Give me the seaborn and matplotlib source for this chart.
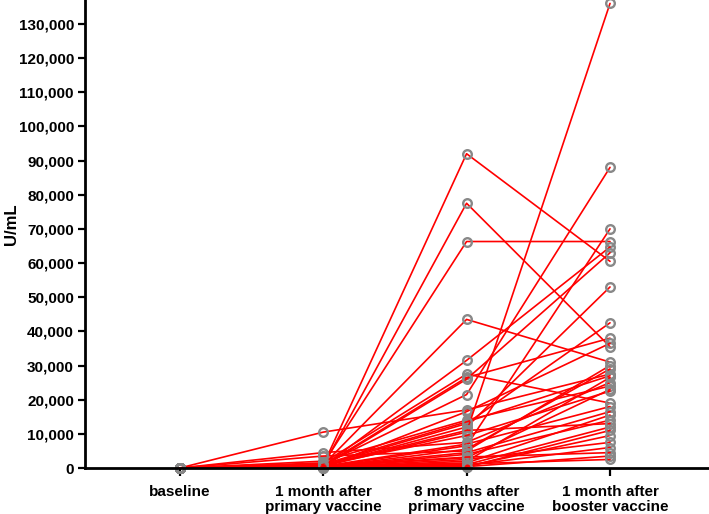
import numpy as np
import pandas as pd
import matplotlib
matplotlib.use("Agg")
import matplotlib.pyplot as plt
import seaborn as sns
from matplotlib.ticker import FuncFormatter, MultipleLocator

# Time point labels
timepoints = ["baseline", "1 month after\nprimary vaccine",
              "8 months after\nprimary vaccine", "1 month after\nbooster vaccine"]

# Antibody levels (U/mL) per subject at each time point
baseline = [0, 0, 0, 0, 0, 0, 0, 0, 0, 0, 0, 0, 0, 0, 0, 0, 0, 0,
            0, 0, 0, 0, 0, 0, 0, 0, 0, 0, 0, 0, 0, 0, 0, 0, 0, 0]
month1 = [800, 600, 1200, 900, 500, 1500, 700, 400, 1000, 10500, 300, 2000,
          800, 600, 500, 4500, 300, 3500, 200, 400, 100, 300, 200, 100,
          500, 700, 200, 100, 300, 600, 900, 150, 250, 350, 1100, 450]
month8 = [92000, 77500, 66300, 43500, 31500, 27500, 26500, 26000, 21500, 17000,
          16500, 14000, 13000, 12000, 10500, 7500, 6500, 5000, 4000, 3000,
          2000, 1500, 1000, 500, 7000, 11000, 2500, 800, 400, 1200, 9500, 300,
          5500, 4500, 13500, 3200]
booster = [60500, 35500, 66300, 31000, 64700, 19000, 38000, 63000, 88000, 27500,
           36500, 24000, 42500, 53000, 136000, 25000, 70000, 30000, 14000, 23000,
           26500, 15500, 12000, 9500, 18000, 13000, 7500, 6000, 3500, 2500, 22500,
           11000, 29000, 16500, 27000, 4500]

n = len(baseline)
rows = []
for i in range(n):
    for t, vals in enumerate([baseline, month1, month8, booster]):
        rows.append({"subject": i, "time": t, "value": vals[i]})
df = pd.DataFrame(rows)

sns.set_style("white")
plt.rcParams["font.family"] = ["Liberation Sans", "DejaVu Sans"]
plt.rcParams["font.weight"] = "bold"
plt.rcParams["text.color"] = "black"
plt.rcParams["xtick.color"] = "black"
plt.rcParams["ytick.color"] = "black"
plt.rcParams["axes.labelcolor"] = "black"

fig = plt.figure(figsize=(7.09, 5.14), dpi=100)
ax = fig.add_axes([85 / 709, 46 / 514, 1 - 85 / 709, 1 - 46 / 514])

sns.lineplot(data=df, x="time", y="value", units="subject", estimator=None,
             color="#ff0000", linewidth=1.2, marker="o", markersize=6.2,
             markerfacecolor="none", markeredgecolor="#888888",
             markeredgewidth=1.7, ax=ax, legend=False, clip_on=False)

ax.set_xlim(-0.66, 3.69)
ax.set_ylim(0, 137000)
ax.set_xticks(range(len(timepoints)))
ax.set_xticklabels(timepoints, fontsize=11, fontweight="bold", linespacing=1.15)
ax.yaxis.set_major_locator(MultipleLocator(10000))
ax.yaxis.set_major_formatter(FuncFormatter(lambda v, p: f"{int(v):,}"))
for lab in ax.get_yticklabels():
    lab.set_fontsize(11)
    lab.set_fontweight("bold")
ax.set_xlabel("")
ax.set_ylabel("U/mL", fontsize=12, fontweight="bold")
ax.yaxis.set_label_coords(-0.105, 0.52)

for side in ["top", "right"]:
    ax.spines[side].set_visible(False)
for side in ["left", "bottom"]:
    ax.spines[side].set_linewidth(2)
    ax.spines[side].set_color("black")
ax.tick_params(axis="y", direction="out", length=5, width=1.6, color="black",
               left=True, pad=3)
ax.tick_params(axis="x", direction="out", length=6, width=1.6, color="black",
               bottom=True, pad=6)

fig.savefig("out.png", dpi=100)
